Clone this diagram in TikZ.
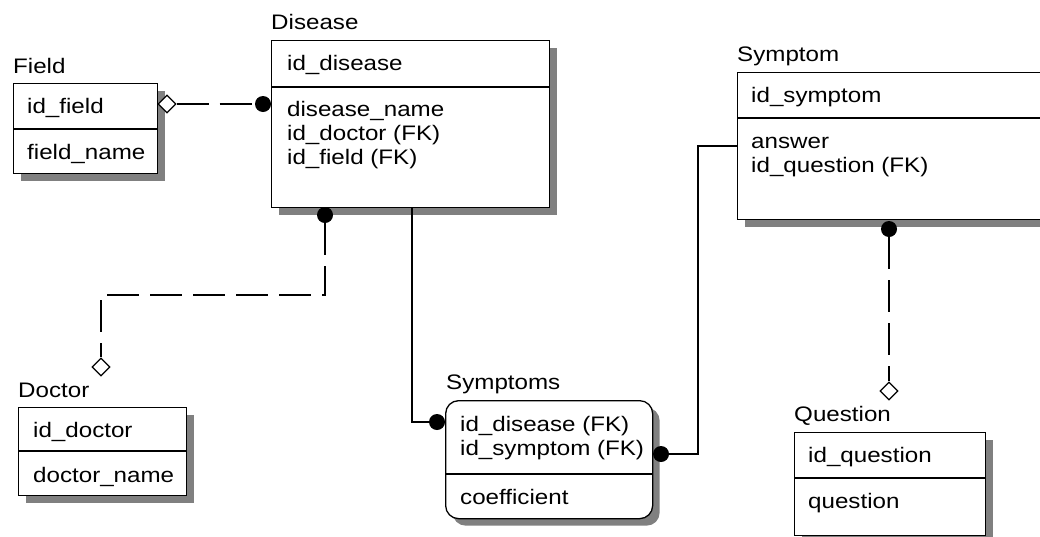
\documentclass[tikz,border=0pt]{standalone}
\usepackage{fontspec}
\setmainfont[FakeStretch=1.15]{Liberation Sans}
\usetikzlibrary{shapes.geometric,shadows}
\begin{document}
\begin{tikzpicture}[x=1pt,y=-1pt,
  font=\fontsize{21}{25}\selectfont,
  tbl/.style={draw=black, line width=1.3pt, fill=white, anchor=north west, inner sep=0pt,
    drop shadow={shadow xshift=7pt, shadow yshift=-7pt, fill=black!50, opacity=1}},
  rtbl/.style={tbl, rounded corners=13pt},
  txt/.style={anchor=base west, inner sep=0pt, text=black},
  ttl/.style={anchor=base west, inner sep=0pt, text=black},
  sepline/.style={line width=1.3pt},
  link/.style={line width=1.3pt},
  dashlink/.style={link, dash pattern=on 32pt off 11pt},
  dot/.style={circle, fill=black, inner sep=0pt, minimum size=16pt},
  hdiam/.style={diamond, draw=black, fill=white, line width=1.2pt, inner sep=0pt, minimum width=18pt, minimum height=18pt}
]
\useasboundingbox (0,0) rectangle (1040,536);
\clip (0,0) rectangle (1040,536);
\fill[white] (0,0) rectangle (1040,536);

% tables
\node[tbl, minimum width=144pt, minimum height=90pt] (field) at (13,83) {};
\node[tbl, minimum width=278pt, minimum height=167pt] (disease) at (271,40) {};
\node[tbl, minimum width=330pt, minimum height=147pt] (symptom) at (737,72) {};
\node[tbl, minimum width=168pt, minimum height=88pt] (doctor) at (18,407) {};
\node[rtbl, minimum width=207pt, minimum height=118pt] (symptoms) at (445,400) {};
\node[tbl, minimum width=191pt, minimum height=103pt] (question) at (794,432) {};

% dividers
\draw[sepline] (field.west |- 0,129) -- (field.east |- 0,129);
\draw[sepline] (disease.west |- 0,87) -- (disease.east |- 0,87);
\draw[sepline] (symptom.west |- 0,118) -- (symptom.east |- 0,118);
\draw[sepline] (doctor.west |- 0,451) -- (doctor.east |- 0,451);
\draw[sepline] (symptoms.west |- 0,474) -- (symptoms.east |- 0,474);
\draw[sepline] (question.west |- 0,478) -- (question.east |- 0,478);

% titles
\node[ttl] (tfield) at (13,73) {Field};
\node[ttl] (tdisease) at (271,29) {Disease};
\node[ttl] (tsymptom) at (737,61) {Symptom};
\node[ttl] (tdoctor) at (18,397) {Doctor};
\node[ttl] (tsymptoms) at (446,389) {Symptoms};
\node[ttl] (tquestion) at (794,421) {Question};

% attributes
\node[txt] (f1) at (27,113) {id\_field};
\node[txt] (f2) at (27,159) {field\_name};
\node[txt] (d1) at (287,70) {id\_disease};
\node[txt] (d2) at (287,116) {disease\_name};
\node[txt] (d3) at (287,140) {id\_doctor (FK)};
\node[txt] (d4) at (287,164) {id\_field (FK)};
\node[txt] (s1) at (751,102) {id\_symptom};
\node[txt] (s2) at (751,148) {answer};
\node[txt] (s3) at (751,172) {id\_question (FK)};
\node[txt] (o1) at (33,437) {id\_doctor};
\node[txt] (o2) at (33,482) {doctor\_name};
\node[txt] (m1) at (460,431) {id\_disease (FK)};
\node[txt] (m2) at (460,455) {id\_symptom (FK)};
\node[txt] (m3) at (460,504) {coefficient};
\node[txt] (q1) at (808,462) {id\_question};
\node[txt] (q2) at (808,508) {question};

% connector ends
\node[hdiam] (fd) at (167,104) {};
\node[dot] (dd) at (263,104) {};
\node[dot] (dbot) at (325,215) {};
\node[hdiam] (docd) at (101,367) {};
\coordinate (dcorner1) at (325,295);
\coordinate (dcorner2) at (101,295);
\coordinate (disout) at (412,207);
\coordinate (mcorner) at (412,422);
\node[dot] (ml) at (437,422) {};
\node[dot] (mr) at (661,454) {};
\coordinate (rcorner1) at (698,454);
\coordinate (rcorner2) at (698,146);
\coordinate (symin) at (737,146);
\node[dot] (sbot) at (889,229) {};
\node[hdiam] (qd) at (889,391) {};

% connectors
\draw[dashlink] (fd.east) -- (dd.west);
\draw[dashlink] (dbot.south) -- (dcorner1) -- (dcorner2) -- (docd.north);
\draw[link] (disout) -- (mcorner) -- (ml.west);
\draw[link] (mr.east) -- (rcorner1) -- (rcorner2) -- (symin);
\draw[dashlink] (sbot.south) -- (qd.north);
\end{tikzpicture}
\end{document}
